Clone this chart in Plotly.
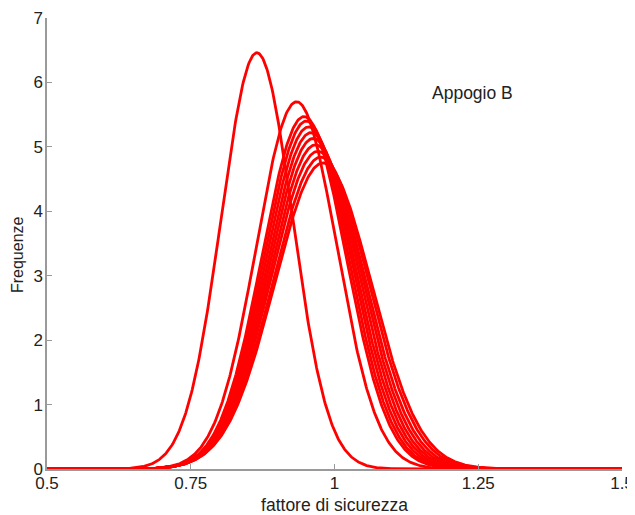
import numpy as np
import plotly.graph_objects as go

# Distribution parameters (mean, peak height)
curve_means = [0.865, 0.934, 0.947, 0.951, 0.955, 0.959, 0.963, 0.967, 0.971, 0.976, 0.980]
curve_peaks = [6.46, 5.70, 5.47, 5.40, 5.31, 5.22, 5.13, 5.03, 4.93, 4.84, 4.75]

x_ticks = [0.5, 0.75, 1, 1.25, 1.5]
x_tick_labels = ["0.5", "0.75", "1", "1.25", "1.5"]
y_ticks = [0, 1, 2, 3, 4, 5, 6, 7]

xs = np.linspace(0.5, 1.5, 801)

fig = go.Figure()
for m, p in zip(curve_means, curve_peaks):
    s = 1.0 / (p * np.sqrt(2 * np.pi))
    ys = p * np.exp(-0.5 * ((xs - m) / s) ** 2)
    fig.add_trace(go.Scatter(x=xs, y=ys, mode="lines",
                             line=dict(color="#ff0000", width=2.8),
                             showlegend=False, hoverinfo="skip"))

fig.add_annotation(x=1.240, y=5.84, text="Appogio B", showarrow=False,
                   font=dict(size=17.5, color="#222222", family="Arial, Liberation Sans"))
fig.add_annotation(xref="paper", yref="paper", x=-0.05, y=0.475, text="Frequenze",
                   xanchor="center", yanchor="middle",
                   textangle=-90, showarrow=False,
                   font=dict(size=16, color="#222222", family="Arial, Liberation Sans"))

# page body adds an 8px offset; figure sized to fill the remaining window
fig.update_layout(
    width=627, height=507,
    margin=dict(l=39, r=13, t=10, b=46),
    paper_bgcolor="white", plot_bgcolor="white",
    font=dict(family="Arial, Liberation Sans", size=17, color="#222222"),
    xaxis=dict(range=[0.5, 1.5], tickvals=x_ticks, ticktext=x_tick_labels,
               showgrid=False, zeroline=False, showline=True, linecolor="#9a9a9a",
               linewidth=1.5, ticks="inside", ticklen=5, tickcolor="#9a9a9a",
               automargin=False,
               title=dict(text="fattore di sicurezza", font=dict(size=17.5), standoff=7),
               ticklabelstandoff=-2),
    yaxis=dict(range=[0, 7], tickvals=y_ticks, showgrid=False, zeroline=False,
               showline=True, linecolor="#9a9a9a", linewidth=1.5,
               ticks="inside", ticklen=5, tickcolor="#9a9a9a",
               automargin=False,
               ticklabelstandoff=-1),
)

fig.write_html("out.html")
